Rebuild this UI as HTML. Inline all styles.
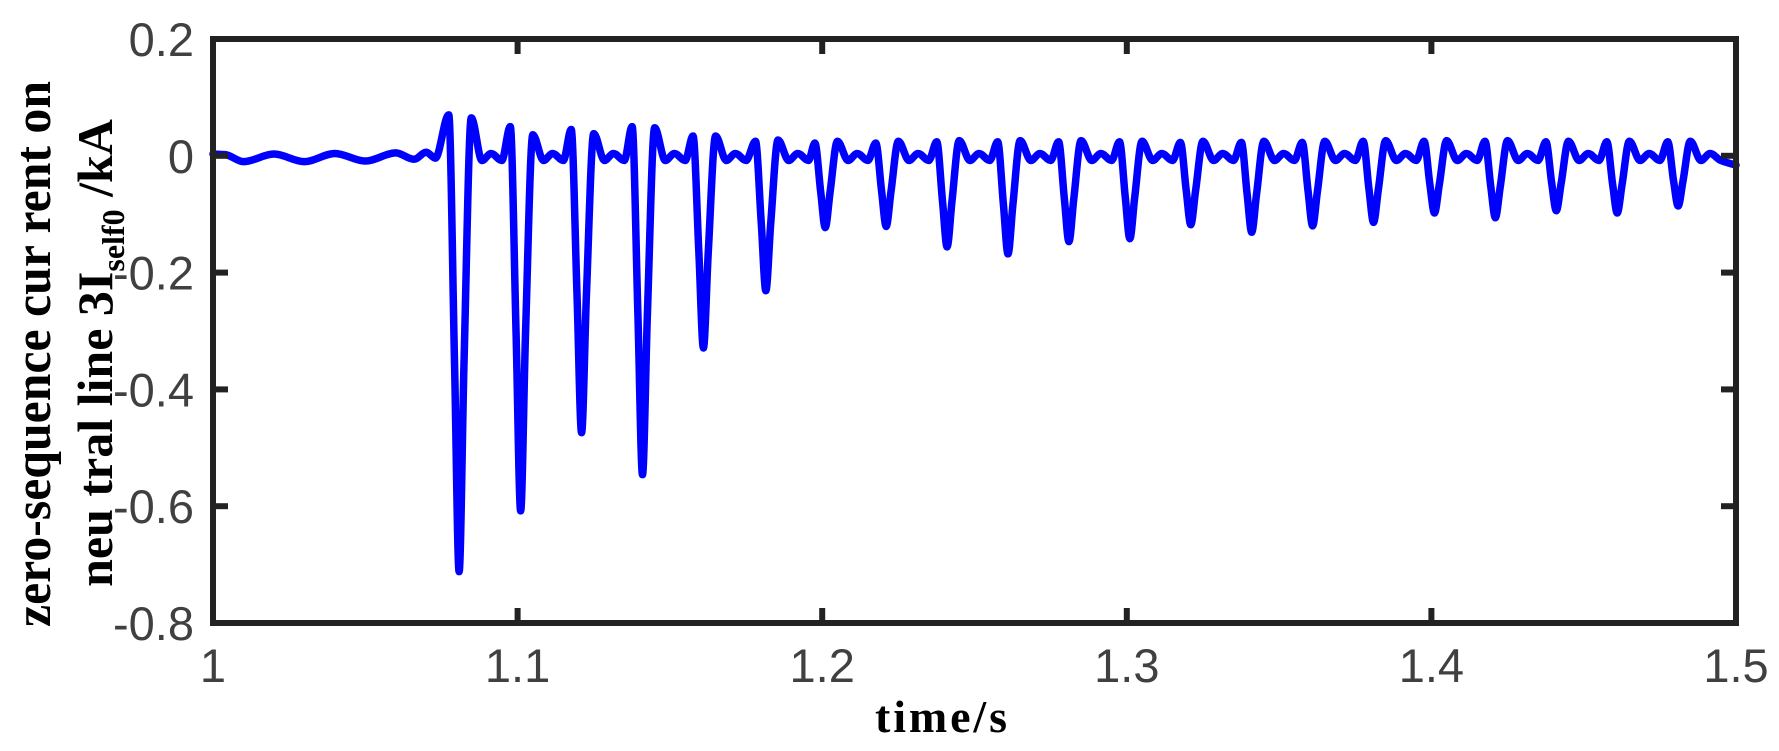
<!DOCTYPE html>
<html><head><meta charset="utf-8"><style>
html,body{margin:0;padding:0;background:#fff;}
svg{display:block;}
</style></head><body>
<svg id="chart" width="1779" height="751" viewBox="0 0 1779 751" xmlns="http://www.w3.org/2000/svg">
<rect x="0" y="0" width="1779" height="751" fill="#fff"/>
<g id="plot"></g>
<g id="axes"></g>
<text x="941" y="732" text-anchor="middle" font-family="Liberation Serif, serif" font-weight="bold" font-size="46" textLength="132" fill="#000">time/s</text>
<text transform="translate(50,354) rotate(-90)" text-anchor="middle" font-family="Liberation Serif, serif" font-weight="bold" font-size="52" textLength="546" lengthAdjust="spacingAndGlyphs" fill="#000">zero-sequence cur rent on</text>
<text transform="translate(112,353) rotate(-90)" text-anchor="middle" font-family="Liberation Serif, serif" font-weight="bold" font-size="50" fill="#000">neu tral line 3I<tspan font-size="32" dy="12">self0</tspan><tspan dy="-12"> /kA</tspan></text>
</svg>
<script>
// ---- data ----
const xTicks = [1, 1.1, 1.2, 1.3, 1.4, 1.5];
const xTickLabels = ['1', '1.1', '1.2', '1.3', '1.4', '1.5'];
const yTicks = [0.2, 0, -0.2, -0.4, -0.6, -0.8];
const yTickLabels = ['0.2', '0', '-0.2', '-0.4', '-0.6', '-0.8'];
// pre-fault oscillation
const preTimes  = [1.000, 1.004, 1.010, 1.020, 1.030, 1.040, 1.050, 1.060, 1.066, 1.070, 1.073];
const preValues = [0.003, 0.002, -0.010, 0.003, -0.010, 0.004, -0.009, 0.005, -0.006, 0.006, -0.004];
// fault spikes
const dipTimes  = [1.0808, 1.101, 1.121, 1.141, 1.161, 1.1815, 1.201, 1.221, 1.241, 1.261, 1.281, 1.301, 1.321, 1.341, 1.361, 1.381, 1.401, 1.421, 1.441, 1.461, 1.481];
const dipValues = [-0.712, -0.608, -0.474, -0.546, -0.329, -0.231, -0.123, -0.121, -0.156, -0.168, -0.147, -0.142, -0.118, -0.131, -0.120, -0.114, -0.098, -0.106, -0.094, -0.098, -0.086];
const prePeaks  = [0.070, 0.050, 0.045, 0.050, 0.034, 0.025, 0.022, 0.022, 0.024, 0.024, 0.024, 0.024, 0.023, 0.023, 0.023, 0.025, 0.025, 0.025, 0.024, 0.024, 0.024];
const postPeaks = [0.065, 0.036, 0.038, 0.048, 0.034, 0.027, 0.025, 0.025, 0.026, 0.026, 0.026, 0.025, 0.025, 0.025, 0.025, 0.026, 0.026, 0.026, 0.025, 0.025, 0.025];
const endTime = 1.5, endValue = -0.016;

const L = 213, R = 1736, T = 39, B = 623;
const xMin = 1, xMax = 1.5, yMin = -0.8, yMax = 0.2;
const sx = t => L + (t - xMin) / (xMax - xMin) * (R - L);
const sy = v => B - (v - yMin) / (yMax - yMin) * (B - T);
const NS = 'http://www.w3.org/2000/svg';
const plot = document.getElementById('plot');
const axes = document.getElementById('axes');

const pts = [];
for (let i = 0; i < preTimes.length; i++) pts.push([preTimes[i], preValues[i]]);
for (let i = 0; i < dipTimes.length; i++) {
  const td = dipTimes[i], d = dipValues[i];
  pts.push([td - 0.0034, prePeaks[i]]);
  pts.push([td - 0.0015, d * 0.5]);
  pts.push([td, d]);
  pts.push([td + 0.0016, d * 0.5]);
  pts.push([td + 0.0040, postPeaks[i]]);
  const next = i + 1 < dipTimes.length ? dipTimes[i + 1] : endTime + 0.01;
  if (td + 0.0075 < Math.min(next, endTime)) pts.push([td + 0.0075, -0.008]);
  if (td + 0.0105 < Math.min(next, endTime)) pts.push([td + 0.0105, 0.004]);
  if (td + 0.0140 < Math.min(next, endTime)) pts.push([td + 0.0140, -0.008]);
}
pts.push([endTime, endValue]);

function monotonePath(p) {
  const n = p.length, xs = p.map(q => sx(q[0])), ys = p.map(q => sy(q[1]));
  const dx = [], m = [], tan = [];
  for (let i = 0; i < n - 1; i++) { dx[i] = xs[i+1] - xs[i]; m[i] = (ys[i+1] - ys[i]) / dx[i]; }
  tan[0] = m[0]; tan[n-1] = m[n-2];
  for (let i = 1; i < n - 1; i++) {
    if (m[i-1] * m[i] <= 0) tan[i] = 0;
    else { const w1 = 2*dx[i] + dx[i-1], w2 = dx[i] + 2*dx[i-1]; tan[i] = (w1 + w2) / (w1 / m[i-1] + w2 / m[i]); }
  }
  let d = 'M' + xs[0].toFixed(2) + ',' + ys[0].toFixed(2);
  for (let i = 0; i < n - 1; i++) {
    const h = dx[i] / 3;
    d += 'C' + (xs[i] + h).toFixed(2) + ',' + (ys[i] + tan[i]*h).toFixed(2) + ' ' + (xs[i+1] - h).toFixed(2) + ',' + (ys[i+1] - tan[i+1]*h).toFixed(2) + ' ' + xs[i+1].toFixed(2) + ',' + ys[i+1].toFixed(2);
  }
  return d;
}
const line = document.createElementNS(NS, 'path');


line.setAttribute('d', monotonePath(pts));
line.setAttribute('fill', 'none');
line.setAttribute('stroke', '#0000ff');
line.setAttribute('stroke-width', '7.5');
line.setAttribute('stroke-linejoin', 'round');
line.setAttribute('stroke-linecap', 'round');
plot.appendChild(line);

const tk = 15;
xTicks.forEach((t, i) => {
  const x = sx(t);
  if (i > 0 && i < xTicks.length - 1) {
    [[B, B - tk], [T, T + tk]].forEach(([a, b]) => {
      const l = document.createElementNS(NS, 'line');
      
      
      l.setAttribute('x1', x); l.setAttribute('x2', x); l.setAttribute('y1', a); l.setAttribute('y2', b);
      l.setAttribute('stroke', '#222'); l.setAttribute('stroke-width', '6');
      axes.appendChild(l);
    });
  }
  const tx = document.createElementNS(NS, 'text');
  
  
  tx.setAttribute('x', x); tx.setAttribute('y', 682);
  tx.setAttribute('text-anchor', 'middle');
  tx.setAttribute('font-family', 'Liberation Sans, sans-serif');
  tx.setAttribute('font-size', '47'); tx.setAttribute('fill', '#404040');
  tx.textContent = xTickLabels[i];
  axes.appendChild(tx);
});
yTicks.forEach((v, i) => {
  const y = sy(v);
  if (i > 0 && i < yTicks.length - 1) {
    [[L, L + tk], [R, R - tk]].forEach(([a, b]) => {
      const l = document.createElementNS(NS, 'line');
      
      
      l.setAttribute('x1', a); l.setAttribute('x2', b); l.setAttribute('y1', y); l.setAttribute('y2', y);
      l.setAttribute('stroke', '#222'); l.setAttribute('stroke-width', '6');
      axes.appendChild(l);
    });
  }
  const tx = document.createElementNS(NS, 'text');
  
  
  tx.setAttribute('x', 194); tx.setAttribute('y', y + 17);
  tx.setAttribute('text-anchor', 'end');
  tx.setAttribute('font-family', 'Liberation Sans, sans-serif');
  tx.setAttribute('font-size', '47'); tx.setAttribute('fill', '#404040');
  tx.textContent = yTickLabels[i];
  axes.appendChild(tx);
});
const frame = document.createElementNS(NS, 'rect');


frame.setAttribute('x', L); frame.setAttribute('y', T);
frame.setAttribute('width', R - L); frame.setAttribute('height', B - T);
frame.setAttribute('fill', 'none'); frame.setAttribute('stroke', '#222'); frame.setAttribute('stroke-width', '6');
axes.appendChild(frame);
</script>
</body></html>
